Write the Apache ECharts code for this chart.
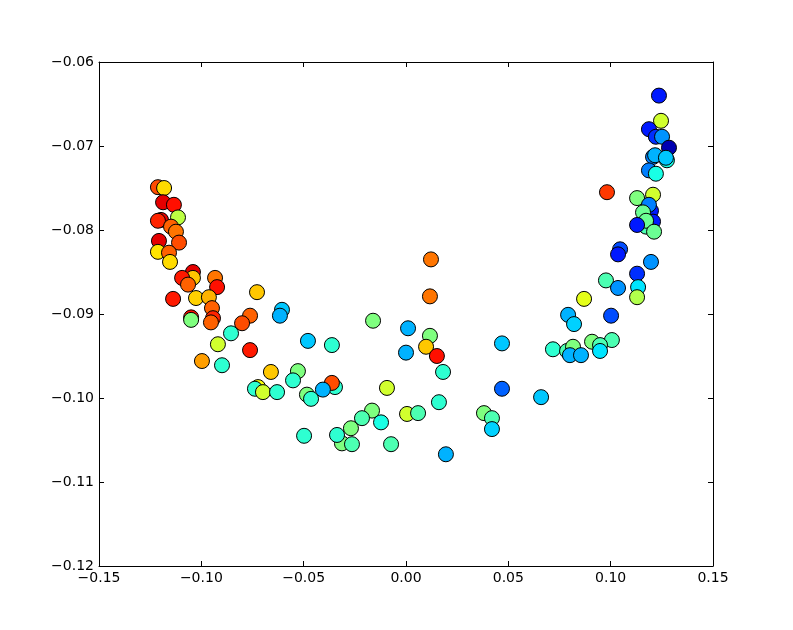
<!DOCTYPE html>
<html>
<head>
<meta charset="utf-8">
<script src="https://cdn.jsdelivr.net/npm/echarts@6/dist/echarts.min.js"></script>
<style>html,body{margin:0;padding:0;background:#fff;}#c{width:793px;height:630px;}</style>
</head>
<body>
<div id="c"></div>
<script>
const xs = [-0.1212,-0.1182,-0.1187,-0.1134,-0.1114,-0.1197,-0.1212,-0.1148,-0.1124,-0.1109,-0.1207,-0.1212,-0.1158,-0.1153,-0.1041,-0.1041,-0.1094,-0.1065,-0.0933,-0.0923,-0.1138,-0.1026,-0.0963,-0.0948,-0.1050,-0.1050,-0.0943,-0.0953,-0.0728,-0.0606,-0.0616,-0.0762,-0.0801,-0.0855,-0.0919,-0.0762,-0.0997,-0.0899,-0.0660,
0.0117,0.0122,-0.0161,0.0010,0.0117,-0.0479,-0.0362,0.0098,0.0151,0.0000,-0.0528,-0.0552,-0.0723,-0.0738,-0.0699,-0.0630,-0.0347,-0.0362,-0.0406,-0.0484,-0.0464,-0.0093,-0.0166,-0.0215,-0.0122,-0.0269,0.0005,0.0059,-0.0498,-0.0313,-0.0337,-0.0264,-0.0073,0.0161,0.0181,0.0195,0.0469,0.0718,0.0469,0.0660,0.0381,0.0420,0.0420,
0.0982,0.1207,0.1129,0.1197,0.1187,0.1158,0.1207,0.1173,0.1173,0.1129,0.1212,0.1046,0.1036,0.1197,0.1129,0.0977,0.1036,0.1134,0.1129,0.0870,0.0792,0.0821,0.1002,0.1006,0.0909,0.0948,0.0948,0.0787,0.0816,0.0801,0.0855,
0.1236,0.1246,0.1187,0.1221,0.1251,0.1285,0.1207,0.1217,0.1275,0.1270,0.1187,0.1221];
const ys = [-0.0749,-0.0750,-0.0767,-0.0770,-0.0785,-0.0788,-0.0789,-0.0796,-0.0802,-0.0815,-0.0813,-0.0826,-0.0827,-0.0838,-0.0850,-0.0857,-0.0857,-0.0865,-0.0857,-0.0868,-0.0882,-0.0881,-0.0880,-0.0893,-0.0904,-0.0907,-0.0905,-0.0910,-0.0874,-0.0895,-0.0902,-0.0902,-0.0911,-0.0923,-0.0936,-0.0943,-0.0956,-0.0961,-0.0969,
-0.0879,-0.0835,-0.0908,-0.0917,-0.0926,-0.0932,-0.0937,-0.0939,-0.0950,-0.0946,-0.0968,-0.0979,-0.0987,-0.0989,-0.0993,-0.0993,-0.0987,-0.0982,-0.0990,-0.0996,-0.1001,-0.0988,-0.1015,-0.1024,-0.1029,-0.1036,-0.1019,-0.1018,-0.1045,-0.1054,-0.1044,-0.1055,-0.1055,-0.1005,-0.0969,-0.1067,-0.0935,-0.0942,-0.0989,-0.0999,-0.1018,-0.1024,-0.1037,
-0.0755,-0.0758,-0.0762,-0.0777,-0.0770,-0.0779,-0.0790,-0.0796,-0.0789,-0.0794,-0.0802,-0.0823,-0.0829,-0.0838,-0.0852,-0.0860,-0.0869,-0.0868,-0.0880,-0.0882,-0.0901,-0.0912,-0.0902,-0.0931,-0.0933,-0.0937,-0.0944,-0.0944,-0.0939,-0.0949,-0.0949,
-0.0640,-0.0670,-0.0680,-0.0689,-0.0689,-0.0702,-0.0713,-0.0711,-0.0717,-0.0714,-0.0729,-0.0733];
const cs = [0.80,0.66,0.90,0.86,0.56,0.90,0.84,0.78,0.76,0.80,0.90,0.65,0.78,0.66,0.90,0.68,0.85,0.78,0.76,0.86,0.85,0.67,0.70,0.78,0.86,0.50,0.84,0.78,0.68,0.32,0.30,0.78,0.80,0.42,0.58,0.85,0.72,0.42,0.68,
0.76,0.76,0.50,0.30,0.50,0.32,0.42,0.68,0.86,0.30,0.50,0.42,0.62,0.42,0.58,0.42,0.42,0.80,0.30,0.50,0.42,0.58,0.50,0.45,0.40,0.50,0.58,0.45,0.42,0.50,0.42,0.45,0.45,0.42,0.42,0.30,0.32,0.42,0.22,0.32,0.50,0.45,0.33,
0.82,0.58,0.50,0.15,0.25,0.48,0.15,0.45,0.48,0.15,0.48,0.20,0.15,0.27,0.17,0.45,0.27,0.35,0.55,0.60,0.30,0.33,0.20,0.45,0.50,0.45,0.35,0.45,0.50,0.30,0.30,
0.15,0.58,0.15,0.17,0.27,0.05,0.25,0.30,0.40,0.32,0.25,0.40];
const xTicks = [-0.15,-0.10,-0.05,0.00,0.05,0.10,0.15];
const yTicks = [-0.12,-0.11,-0.10,-0.09,-0.08,-0.07,-0.06];

const data = xs.map((x, i) => [x, ys[i], cs[i]]);
const fmt = v => { const s = Math.abs(v).toFixed(2); return (v < -1e-9 ? '\u2212' : '') + s; };
const lbl = { color: '#000', fontFamily: 'DejaVu Sans', fontSize: 14 };
const line = { show: true, onZero: false, lineStyle: { color: '#000', width: 1 } };
const tick = { show: true, inside: true, length: 5, lineStyle: { color: '#000' } };
const chart = echarts.init(document.getElementById('c'), null, { renderer: 'canvas' });
chart.setOption({
  animation: false,
  backgroundColor: '#fff',
  grid: { left: 99, right: 80, top: 62, bottom: 64 },
  xAxis: [
    { type: 'value', min: xTicks[0], max: xTicks[xTicks.length-1], interval: 0.05, axisLine: line, axisTick: tick, splitLine: { show: false },
      axisLabel: Object.assign({ margin: 5, formatter: fmt }, lbl) },
    { type: 'value', position: 'top', min: xTicks[0], max: xTicks[xTicks.length-1], interval: 0.05, axisLine: line, axisTick: tick, splitLine: { show: false },
      axisLabel: { show: false } }
  ],
  yAxis: [
    { type: 'value', min: yTicks[0], max: yTicks[yTicks.length-1], interval: 0.01, axisLine: line, axisTick: tick, splitLine: { show: false },
      axisLabel: Object.assign({ margin: 5, formatter: fmt }, lbl) },
    { type: 'value', position: 'right', min: yTicks[0], max: yTicks[yTicks.length-1], interval: 0.01, axisLine: line, axisTick: tick, splitLine: { show: false },
      axisLabel: { show: false } }
  ],
  visualMap: { show: false, type: 'continuous', min: 0, max: 1, dimension: 2, seriesIndex: 0,
    inRange: { color: ['#00007f','#0000ff','#007fff','#00ffff','#7fff7f','#ffff00','#ff7f00','#ff0000','#7f0000'] } },
  series: [{
    type: 'scatter', xAxisIndex: 0, yAxisIndex: 0, data: data, symbolSize: 15,
    itemStyle: { borderColor: '#000', borderWidth: 1, opacity: 1 }
  }]
});
</script>
</body>
</html>
